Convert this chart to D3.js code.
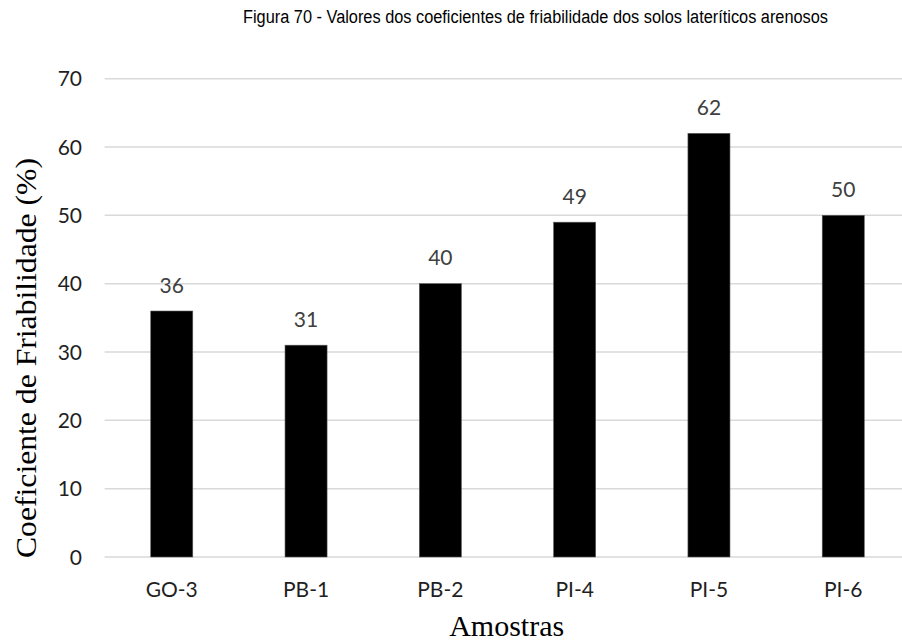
<!DOCTYPE html>
<html>
<head>
<meta charset="utf-8">
<script src="https://cdn.jsdelivr.net/npm/d3@7"></script>
<style>
  html, body { margin: 0; padding: 0; background: #fff; }
  svg { display: block; }
</style>
</head>
<body>
<svg id="chart" width="902" height="643"></svg>
<script>
// Sample names and friability coefficients (%)
const samples = ["GO-3", "PB-1", "PB-2", "PI-4", "PI-5", "PI-6"];
const friability = [36, 31, 40, 49, 62, 50];
const yTicks = [0, 10, 20, 30, 40, 50, 60, 70];

const titleText = "Figura 70 - Valores dos coeficientes de friabilidade dos solos lateríticos arenosos";
const yTitle = "Coeficiente de Friabilidade (%)";
const xTitle = "Amostras";

const svg = d3.select("#chart");
const W = 902, H = 643;
const plot = { left: 104.6, right: 910.4, top: 78.7, bottom: 557 };

const x = d3.scaleBand()
  .domain(samples)
  .range([plot.left, plot.right])
  .paddingInner(0.687)
  .paddingOuter(0.687 / 2);

const y = d3.scaleLinear()
  .domain([0, 70])
  .range([plot.bottom, plot.top]);

const tickFont = "Lato, 'Open Sans', sans-serif";

// Horizontal gridlines
svg.append("g")
  .selectAll("line")
  .data(yTicks)
  .join("line")
  .attr("x1", plot.left)
  .attr("x2", W)
  .attr("y1", d => y(d))
  .attr("y2", d => y(d))
  .attr("stroke", "#d9d9d9")
  .attr("stroke-width", 1.5);

// Y tick labels
svg.append("g")
  .selectAll("text")
  .data(yTicks)
  .join("text")
  .attr("x", 82)
  .attr("y", d => y(d) + 7.5)
  .attr("text-anchor", "end")
  .attr("font-family", tickFont)
  .attr("font-size", 21)
  .attr("fill", "#1f1f1f")
  .text(d => d);

// Bars
svg.append("g")
  .selectAll("rect")
  .data(samples)
  .join("rect")
  .attr("x", d => x(d))
  .attr("width", x.bandwidth())
  .attr("y", (d, i) => y(friability[i]))
  .attr("height", (d, i) => y(0) - y(friability[i]))
  .attr("fill", "#000")
  .attr("stroke", "#595959")
  .attr("stroke-width", 0.6);

// Value labels above bars
svg.append("g")
  .selectAll("text")
  .data(samples)
  .join("text")
  .attr("x", d => x(d) + x.bandwidth() / 2)
  .attr("y", (d, i) => y(friability[i]) - 18.5)
  .attr("text-anchor", "middle")
  .attr("font-family", tickFont)
  .attr("font-size", 21)
  .attr("fill", "#404040")
  .text((d, i) => friability[i]);

// X category labels
svg.append("g")
  .selectAll("text")
  .data(samples)
  .join("text")
  .attr("x", d => x(d) + x.bandwidth() / 2)
  .attr("y", 596.7)
  .attr("text-anchor", "middle")
  .attr("font-family", tickFont)
  .attr("font-size", 21)
  .attr("fill", "#1f1f1f")
  .text(d => d);

// Chart title
svg.append("text")
  .attr("x", 535.5)
  .attr("y", 23)
  .attr("text-anchor", "middle")
  .attr("font-family", "'Liberation Sans Narrow', 'Arial Narrow', 'Liberation Sans', sans-serif")
  .attr("font-size", 18)
  .attr("textLength", 585)
  .attr("lengthAdjust", "spacingAndGlyphs")
  .attr("fill", "#000")
  .text(titleText);

// Axis titles
svg.append("text")
  .attr("transform", "translate(36,358) rotate(-90)")
  .attr("text-anchor", "middle")
  .attr("font-family", "'Liberation Serif', 'Times New Roman', serif")
  .attr("font-size", 29)
  .attr("textLength", 400)
  .attr("lengthAdjust", "spacingAndGlyphs")
  .attr("fill", "#000")
  .text(yTitle);

svg.append("text")
  .attr("x", 506.7)
  .attr("y", 636)
  .attr("text-anchor", "middle")
  .attr("font-family", "'Liberation Serif', 'Times New Roman', serif")
  .attr("font-size", 30)
  .attr("fill", "#000")
  .text(xTitle);
</script>
</body>
</html>
